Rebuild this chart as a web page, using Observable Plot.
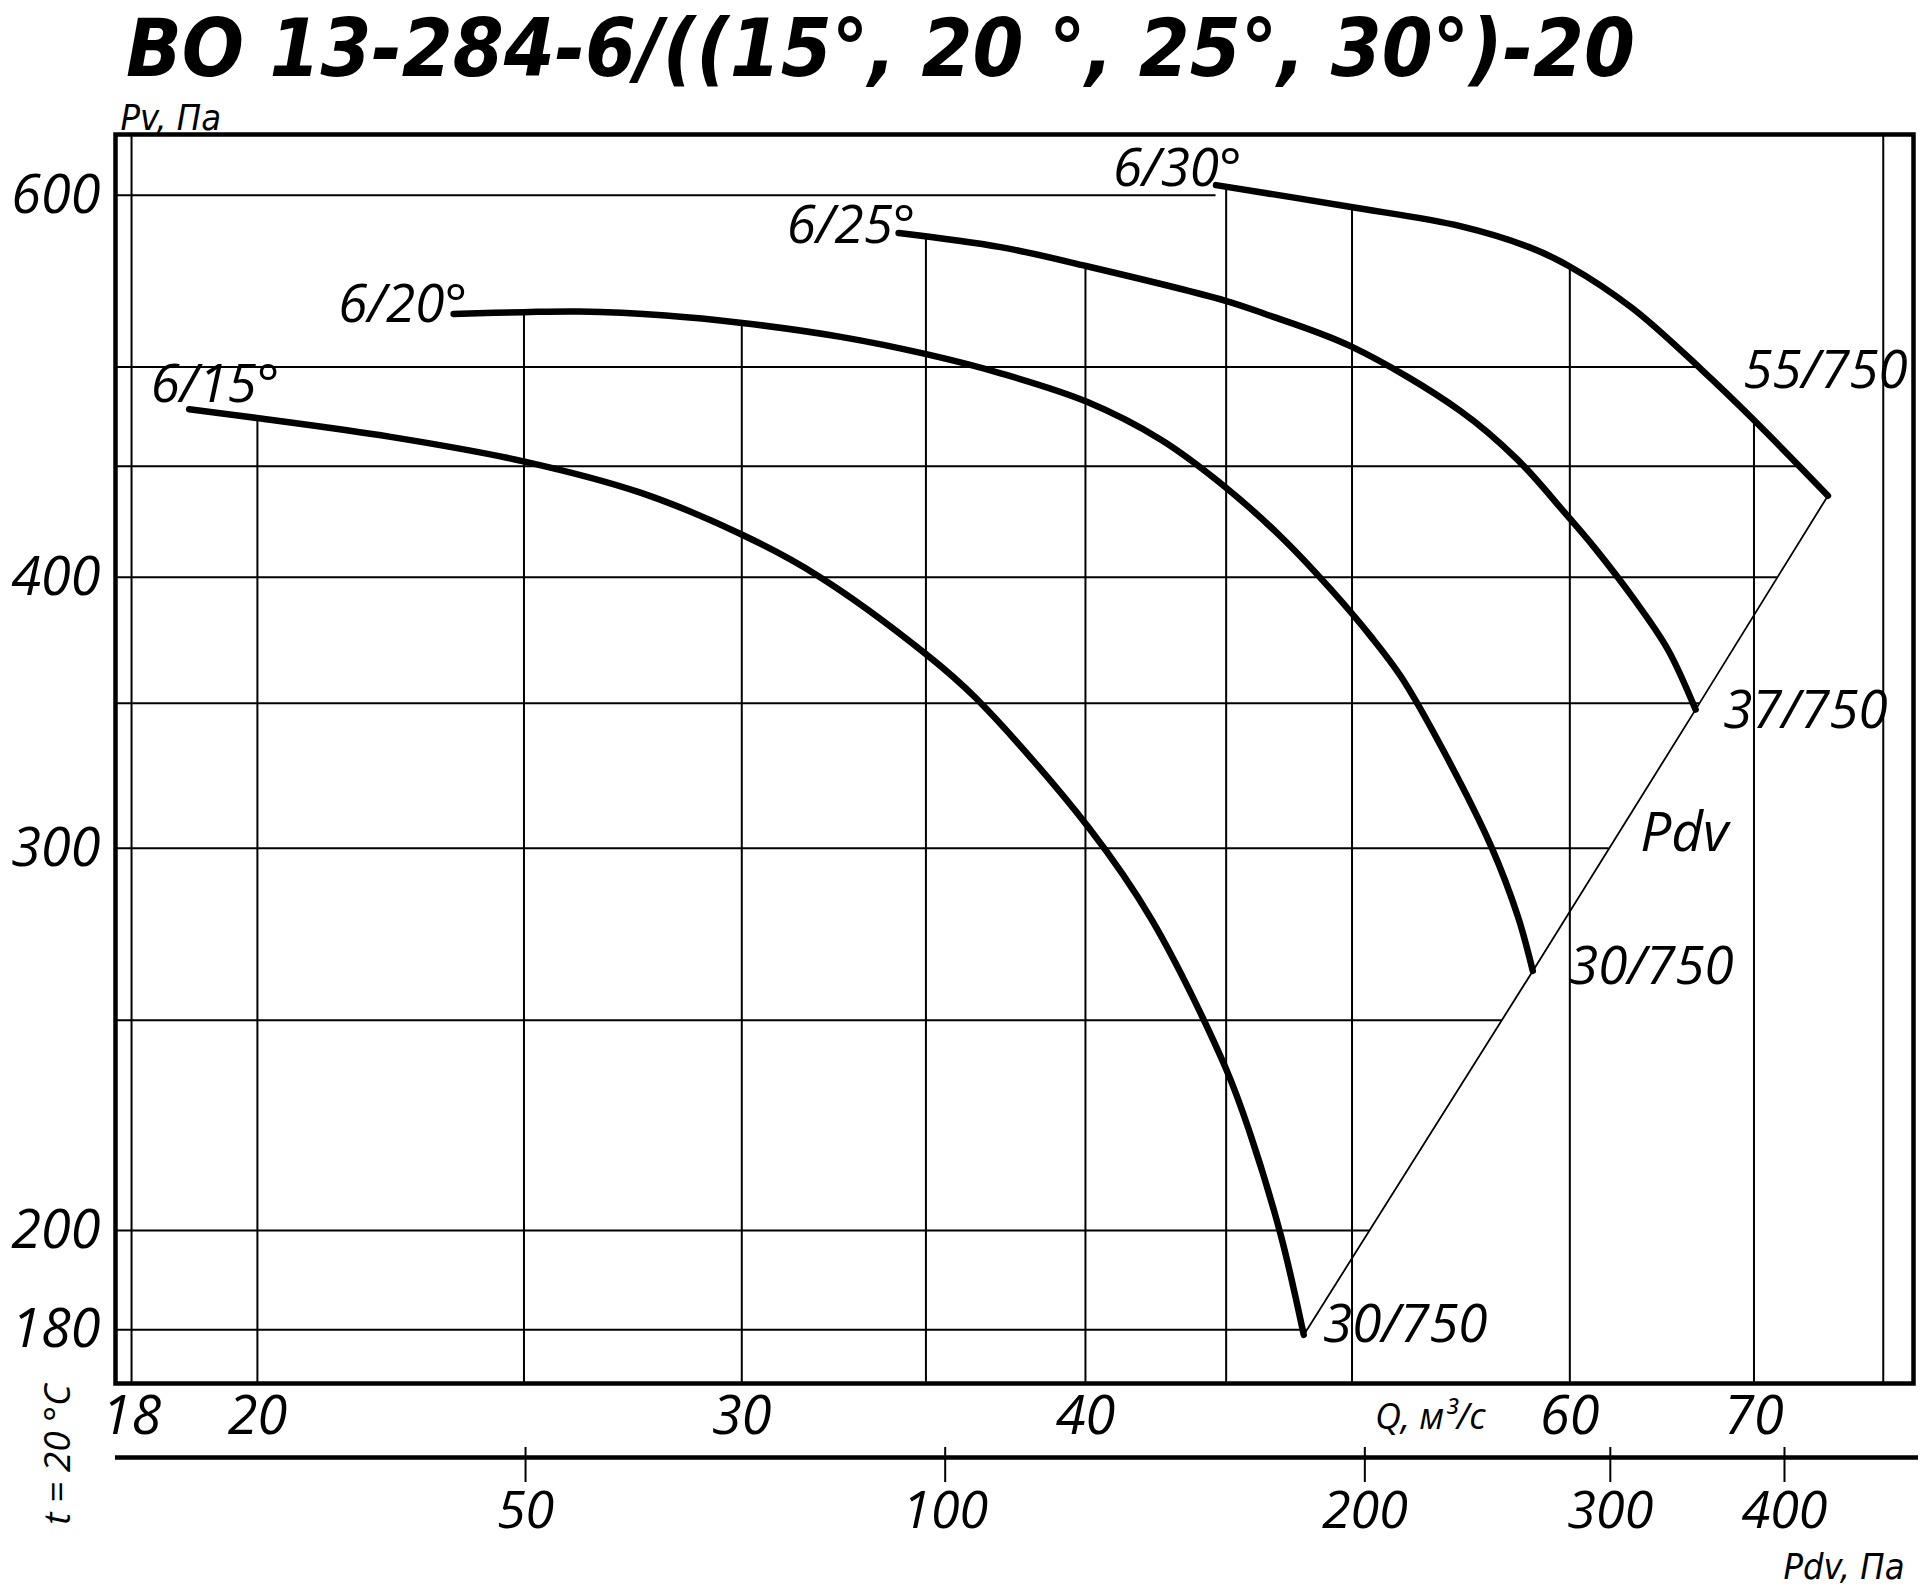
<!DOCTYPE html>
<html><head><meta charset="utf-8">
<script src="https://cdn.jsdelivr.net/npm/d3@7"></script>
<script src="https://cdn.jsdelivr.net/npm/@observablehq/plot@0.6"></script>
<style>
html,body{margin:0;padding:0;background:#fff;}
#wrap{position:relative;width:1920px;height:1588px;overflow:hidden;background:#fff;}
#wrap > svg{position:absolute;left:0;}
</style></head><body><div id="wrap"></div>
<script>
// ---------- data ----------
const TITLE = "ВО 13-284-6/((15°, 20 °, 25°, 30°)-20";
const PV_LABEL = "Pv, Па";
const Q_LABEL = "Q, м³/с";
const PDV_AXIS_LABEL = "Pdv, Па";
const TEMP_LABEL = "t = 20 °C";

const Q_DOMAIN = [17.76, 80];
const PV_DOMAIN = [170, 640];
const PDV_DOMAIN = [25.4, 495];   // extent of the lower Pdv scale under the frame
const qGrid = [18, 20, 25, 30, 35, 40, 45, 50, 60, 70, 78];
const pvGrid = [180, 200, 250, 300, 350, 400, 450, 500, 600];
const qTicks = [18, 20, 30, 40, 60, 70];
const pvTicks = [180, 200, 300, 400, 600];
const pdvTicks = [50, 100, 200, 300, 400];
const Q_LABEL_AT = 50;          // the Q axis name stands where 50 would be

const curveNames = ["6/15°", "6/20°", "6/25°", "6/30°"];
const q15  = [18.89, 19.99, 22.36, 24.99, 27.56, 30.01, 31.98, 35.01, 36.50, 40.10, 42.29, 44.97, 45.94, 47.11, 48.02];
const pv15 = [478.1, 473.7, 464.3, 452.4, 437.6, 418.5, 400.6, 368.6, 351.8, 306.8, 278.0, 237.8, 221.1, 198.9, 179.0];
const q20  = [23.57, 24.99, 26.19, 28.15, 30.01, 32.59, 35.01, 37.26, 40.05, 42.61, 44.95, 47.11, 49.13, 50.80, 52.09, 54.02, 56.17, 57.44, 58.17];
const pv20 = [529.0, 530.0, 530.4, 528.2, 524.0, 516.3, 506.9, 496.7, 481.9, 462.9, 440.4, 417.6, 394.8, 375.6, 360.0, 332.1, 300.7, 279.2, 263.4];
const q25  = [34.21, 37.26, 40.05, 44.95, 46.49, 49.96, 54.74, 57.44, 59.83, 61.25, 63.33, 65.13, 66.66];
const pv25 = [576.5, 567.9, 556.5, 536.6, 529.0, 511.1, 477.3, 453.1, 427.5, 412.8, 390.6, 370.5, 347.6];
const q30  = [44.62, 49.96, 54.74, 57.99, 59.97, 63.23, 66.99, 69.95, 74.47];
const pv30 = [606.5, 592.6, 580.7, 567.9, 556.5, 532.2, 498.7, 473.1, 436.2];

const startLabelQ  = [18.29, 21.40, 31.15, 40.93];
const startLabelPv = [481.9, 524.7, 570.6, 605.9];
const endLabels   = ["30/750", "30/750", "37/750", "55/750"];
const endLabelQ   = [48.80, 59.96, 68.22, 69.37];
const endLabelPv  = [177.7, 259.7, 341.0, 489.1];
const PDV_NAME = "Pdv";
const pdvNameQ = 63.64, pdvNamePv = 299.1;

// ---------- derived tables ----------
const FONT = "'Open Sans', 'DejaVu Sans', sans-serif";
const NARROW = "'DejaVu Sans Condensed', 'DejaVu Sans', sans-serif";
const curvesQ = [q15, q20, q25, q30];
const curvesPv = [pv15, pv20, pv25, pv30];
const curvePoints = curveNames.flatMap((name, k) =>
  curvesQ[k].map((q, i) => ({name, q, pv: curvesPv[k][i]})));
const ends = curvesQ.map((qs, k) => ({q: qs[qs.length - 1], pv: curvesPv[k][qs.length - 1]}));

function interpPv(qs, pvs, q) {
  if (q < qs[0] || q > qs[qs.length - 1]) return null;
  for (let i = 1; i < qs.length; i++) {
    if (q <= qs[i]) {
      const t = Math.log(q / qs[i - 1]) / Math.log(qs[i] / qs[i - 1]);
      return Math.exp(Math.log(pvs[i - 1]) + t * Math.log(pvs[i] / pvs[i - 1]));
    }
  }
  return pvs[pvs.length - 1];
}
// outer boundary of the field: the 6/30° curve, then the Pdv line back down
const bQ = [...q30, ...ends.slice(0, 3).reverse().map(d => d.q)];
const bPv = [...pv30, ...ends.slice(0, 3).reverse().map(d => d.pv)];
function crossing(pv) {
  for (let i = 1; i < bQ.length; i++) {
    const p0 = bPv[i - 1], p1 = bPv[i];
    if ((pv <= p0 && pv >= p1) || (pv >= p0 && pv <= p1)) {
      if (i === 1) return bQ[0];     // passes under the curve's start: stop there
      const t = Math.log(pv / p0) / Math.log(p1 / p0);
      return Math.exp(Math.log(bQ[i - 1]) + t * Math.log(bQ[i] / bQ[i - 1]));
    }
  }
  return null;
}
const vRows = qGrid.map(q => {
  const tops = curvesQ.map((qs, k) => interpPv(qs, curvesPv[k], q)).filter(v => v != null);
  return {q, y1: PV_DOMAIN[0], y2: tops.length ? Math.max(...tops) : PV_DOMAIN[1]};
});
const hRows = pvGrid.map(pv => ({pv, x1: Q_DOMAIN[0], x2: crossing(pv) ?? Q_DOMAIN[1]}));
const startRows = curveNames.map((t, i) => ({text: t, q: startLabelQ[i], pv: startLabelPv[i]}));
const endRows = endLabels.map((t, i) => ({text: t, q: endLabelQ[i], pv: endLabelPv[i]}));

const baseStyle = {fontFamily: FONT, fontStyle: "italic", color: "#000", background: "transparent", overflow: "visible"};

// ---------- main chart ----------
const main = Plot.plot({
  width: 1920, height: 1588,
  marginTop: 134, marginBottom: 205, marginLeft: 115, marginRight: 7,
  x: {type: "log", domain: Q_DOMAIN},
  y: {type: "log", domain: PV_DOMAIN},
  style: baseStyle,
  marks: [
    Plot.ruleY(hRows, {y: "pv", x1: "x1", x2: "x2", strokeWidth: 2}),
    Plot.ruleX(vRows, {x: "q", y1: "y1", y2: "y2", strokeWidth: 2}),
    Plot.line(ends, {x: "q", y: "pv", strokeWidth: 1.8}),
    Plot.line(curvePoints, {x: "q", y: "pv", z: "name", strokeWidth: 6.5, strokeLinecap: "round", strokeLinejoin: "round", curve: "catmull-rom"}),
    Plot.text(startRows, {x: "q", y: "pv", text: "text", textAnchor: "start", lineAnchor: "bottom", fontSize: 53}),
    Plot.text(endRows, {x: "q", y: "pv", text: "text", textAnchor: "start", lineAnchor: "bottom", fontSize: 53}),
    Plot.text([PDV_NAME], {x: () => pdvNameQ, y: () => pdvNamePv, textAnchor: "start", lineAnchor: "bottom", fontSize: 55}),
    Plot.frame({strokeWidth: 4.5}),
    Plot.axisX(qTicks, {tickSize: 0, tickPadding: 12, fontSize: 54, tickFormat: d => String(d), label: null}),
    Plot.axisY(pvTicks, {tickSize: 0, tickPadding: 15, fontSize: 54, tickFormat: d => String(d), label: null}),
    Plot.text([PV_LABEL], {frameAnchor: "top-left", textAnchor: "start", lineAnchor: "bottom", dx: 5, dy: -5, fontSize: 36, fontFamily: NARROW}),
    Plot.text([Q_LABEL], {x: () => Q_LABEL_AT, frameAnchor: "bottom", textAnchor: "start", lineAnchor: "bottom", dx: 23, dy: 45, fontSize: 36}),
    Plot.text([TEMP_LABEL], {frameAnchor: "bottom-left", rotate: -90, textAnchor: "middle", lineAnchor: "middle", dx: -57, dy: 71, fontSize: 37})
  ]
});
main.style.top = "0px";

// ---------- dynamic pressure axis ----------
const pdvAxis = Plot.plot({
  width: 1920, height: 148,
  marginTop: 7, marginBottom: 131, marginLeft: 115, marginRight: 7,
  x: {type: "log", domain: PDV_DOMAIN},
  y: {domain: [0, 1], axis: null},
  style: baseStyle,
  marks: [
    Plot.ruleY([0], {strokeWidth: 4.5, insetRight: -5}),
    Plot.ruleX(pdvTicks, {x: d => d, strokeWidth: 2}),
    Plot.axisX(pdvTicks, {anchor: "bottom", tickSize: 25, tickPadding: 9, strokeWidth: 2, fontSize: 52, tickFormat: d => String(d), label: null}),
    Plot.text([PDV_AXIS_LABEL], {frameAnchor: "bottom-right", textAnchor: "end", lineAnchor: "bottom", dx: -9, dy: 121, fontSize: 36, fontFamily: NARROW})
  ]
});
pdvAxis.style.top = "1440px";

// ---------- title ----------
const ns = "http://www.w3.org/2000/svg";
const tsvg = document.createElementNS(ns, "svg");
tsvg.setAttribute("width", 1920); tsvg.setAttribute("height", 100);
tsvg.style.top = "0px";
const tt = document.createElementNS(ns, "text");
tt.setAttribute("x", 126); tt.setAttribute("y", 76);
tt.setAttribute("font-family", NARROW); tt.setAttribute("font-weight", "bold");
tt.setAttribute("font-style", "italic"); tt.setAttribute("font-size", 80);
tt.setAttribute("textLength", 1509); tt.setAttribute("lengthAdjust", "spacingAndGlyphs");
tt.textContent = TITLE;
tsvg.appendChild(tt);

const wrap = document.getElementById("wrap");
wrap.appendChild(main);
wrap.appendChild(pdvAxis);
wrap.appendChild(tsvg);
</script></body></html>
